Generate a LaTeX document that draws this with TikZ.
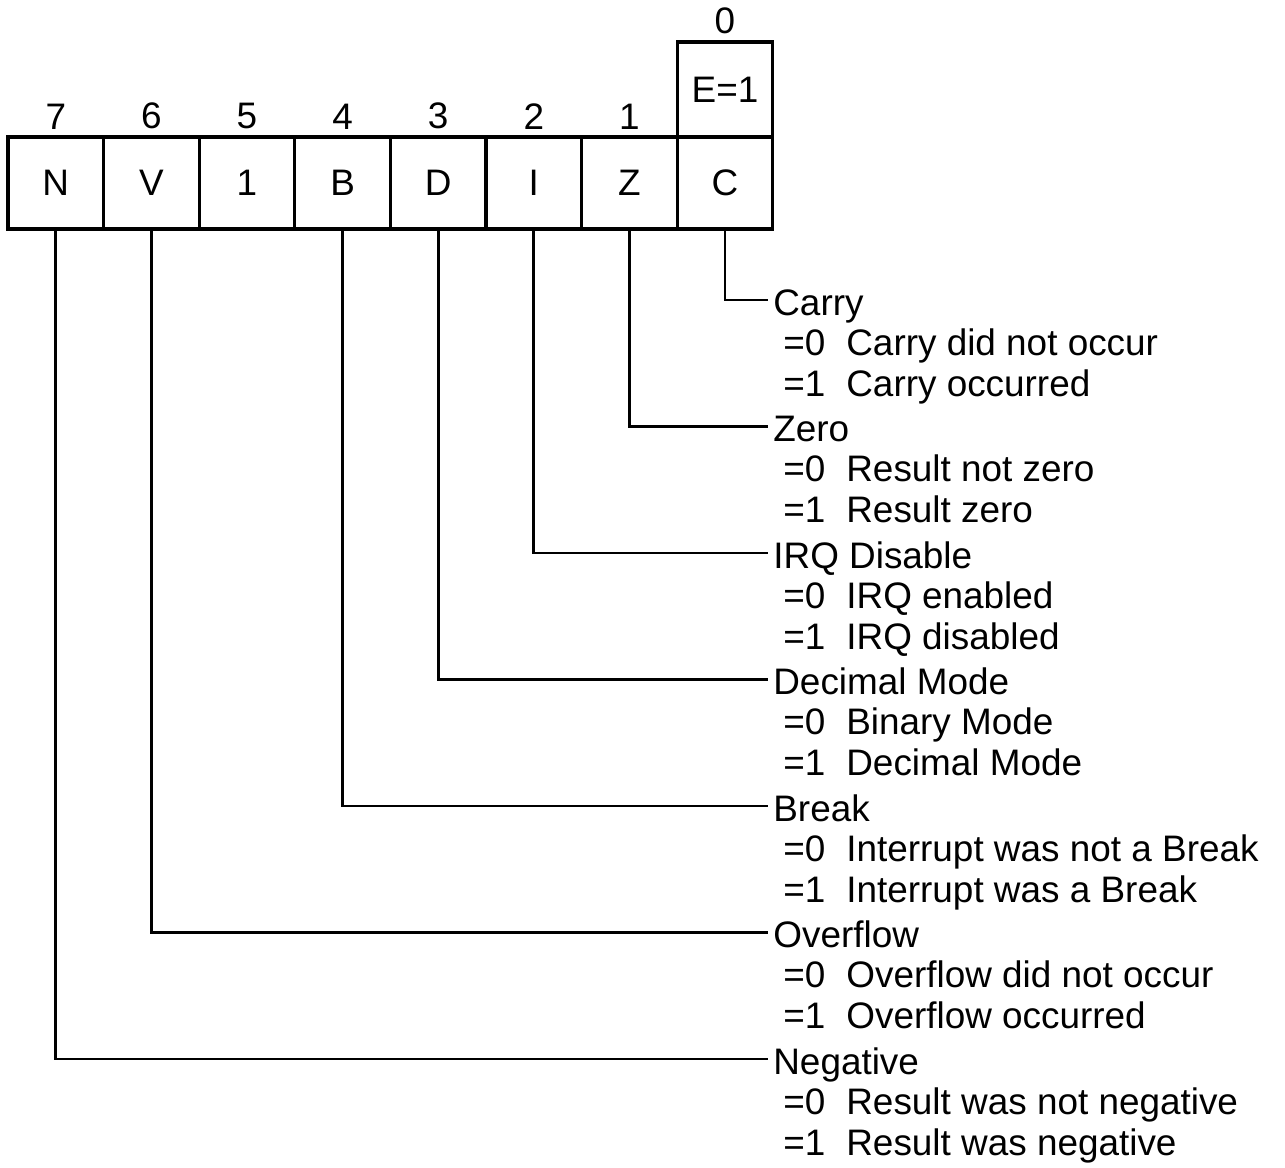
\documentclass[tikz,border=0pt]{standalone}
\usepackage{fontspec}
\setmainfont{Liberation Sans}
\usetikzlibrary{positioning}

\begin{document}
\begin{tikzpicture}[
  x=0.02cm, y=-0.02cm,
  font=\fontsize{21}{24}\selectfont,
  bit/.style={draw, line width=1.8pt, outer sep=0pt, minimum width=1.912cm, minimum height=1.84cm, inner sep=0pt},
  num/.style={inner sep=0pt},
  flag/.style={anchor=base west, inner sep=0.1cm},
  val/.style={anchor=base west, inner sep=0pt},
  lead/.style={line width=1.6pt}
]
\useasboundingbox (0,0) rectangle (1285,1167);
% register boxes, bit 7 on the left
\foreach \f/\n [count=\i from 0] in {N/7,V/6,1/5,B/4,D/3,I/2,Z/1,C/0}
  \node[bit] (b\n) at ({55.8+95.6*\i},183) {\f};
\node[bit, above=0pt of b0, minimum height=1.9cm] (e) {E=1};
\foreach \n in {1,...,7}
  \node[num, above=0.15cm of b\n] (n\n) {\n};
\node[num, above=0.15cm of e] (n0) {0};
% flag descriptions
\foreach \n/\t/\za/\oa [count=\k from 0] in {
    0/Carry/Carry did not occur/Carry occurred,
    1/Zero/Result not zero/Result zero,
    2/IRQ Disable/IRQ enabled/IRQ disabled,
    3/Decimal Mode/Binary Mode/Decimal Mode,
    4/Break/Interrupt was not a Break/Interrupt was a Break,
    6/Overflow/Overflow did not occur/Overflow occurred,
    7/Negative/Result was not negative/Result was negative}
{
  \node[flag] (f\n) at (768,{315+126.5*\k}) {\t};
  \node[val] (z\n) at (783,{355+126.5*\k}) {=0};
  \node[val] (zt\n) at (846,{355+126.5*\k}) {\za};
  \node[val] (o\n) at (783,{396+126.5*\k}) {=1};
  \node[val] (ot\n) at (846,{396+126.5*\k}) {\oa};
  \draw[lead] (b\n.south) |- ([yshift=0.3cm]f\n.base west);
}
\end{tikzpicture}
\end{document}
